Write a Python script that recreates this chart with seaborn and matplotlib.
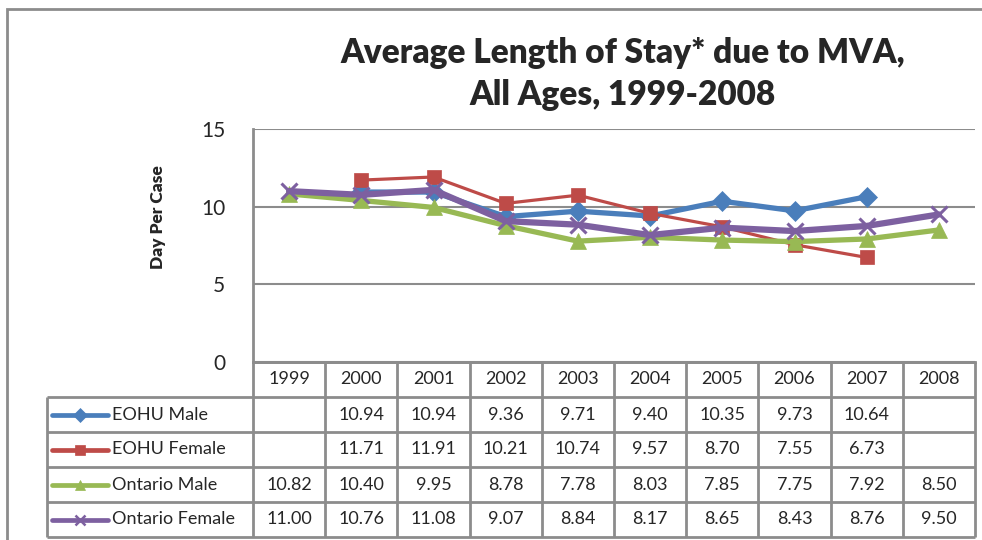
import numpy as np
import pandas as pd
import matplotlib
matplotlib.use("Agg")
import matplotlib.pyplot as plt
from matplotlib.lines import Line2D
from matplotlib.patches import Rectangle
import seaborn as sns

years = ['1999', '2000', '2001', '2002', '2003', '2004', '2005', '2006', '2007', '2008']
series_names = ['EOHU Male', 'EOHU Female', 'Ontario Male', 'Ontario Female']
eohu_male = [np.nan, 10.94, 10.94, 9.36, 9.71, 9.40, 10.35, 9.73, 10.64, np.nan]
eohu_female = [np.nan, 11.71, 11.91, 10.21, 10.74, 9.57, 8.70, 7.55, 6.73, np.nan]
ontario_male = [10.82, 10.40, 9.95, 8.78, 7.78, 8.03, 7.85, 7.75, 7.92, 8.50]
ontario_female = [11.00, 10.76, 11.08, 9.07, 8.84, 8.17, 8.65, 8.43, 8.76, 9.50]

colors = ['#4A7EBB', '#BE4B48', '#98B954', '#7D60A0']
markers = ['D', 's', '^', 'x']
widths = [3.8, 2.3, 3.8, 4.5]
msizes = [10.5, 10, 11.5, 11.5]

sns.set_style('white')
plt.rcParams['font.family'] = ['Lato', 'DejaVu Sans']

W, H = 982, 540
fig = plt.figure(figsize=(W / 100, H / 100), dpi=100)
grid_col = '#8c8c8c'

# outer chart frame (top and left edges visible)
fig.patches.append(Rectangle((7 / W, -0.2), 1.2, 1.2 - 9 / H, transform=fig.transFigure,
                             fill=False, edgecolor=grid_col, lw=2))

ax = fig.add_axes([253 / W, (H - 362) / H, 722 / W, 233 / H])
idx = np.arange(len(years))
df = pd.DataFrame({'idx': idx, 'EOHU Male': eohu_male, 'EOHU Female': eohu_female,
                   'Ontario Male': ontario_male, 'Ontario Female': ontario_female})

for name, c, m, lw, ms in zip(series_names, colors, markers, widths, msizes):
    sub = df[['idx', name]].dropna()
    sns.lineplot(data=sub, x='idx', y=name, ax=ax, color=c, lw=lw, marker=m, ms=ms,
                 mec=c, mew=2.2 if m == 'x' else 0.5)

ax.set_xlim(-0.5, len(years) - 0.5)
ax.set_ylim(0, 15)
ax.set_yticks([0, 5, 10, 15])
ax.set_xticks([])
ax.set_xlabel('')
ax.set_ylabel('Day Per Case', fontsize=12.5, fontweight='heavy')
ax.yaxis.set_label_coords(-0.12, 0.62)
ax.tick_params(axis='y', labelsize=15, pad=20, length=0)
ax.grid(axis='y', color=grid_col, lw=1.5)
ax.set_axisbelow(True)
for s in ['top', 'right']:
    ax.spines[s].set_visible(False)
for s in ['left', 'bottom']:
    ax.spines[s].set_color(grid_col)
    ax.spines[s].set_linewidth(2)

fig.text(623 / W, 1 - 74 / H, 'Average Length of Stay* due to MVA,\nAll Ages, 1999-2008',
         ha='center', va='center', fontsize=24, fontweight='heavy', linespacing=1.38)

# data table under the chart
tab = fig.add_axes([47 / W, (H - 537) / H, (975 - 47) / W, 175 / H])
left_edge = -0.5 - 206 / 72.2
right_edge = len(years) - 0.5
tab.set_xlim(left_edge, right_edge)
tab.set_ylim(len(series_names) + 1, 0)
tab.axis('off')

lkw = dict(color=grid_col, lw=2, clip_on=False)
tab.hlines([0], -0.5, right_edge, **lkw)
tab.hlines(np.arange(1, len(series_names) + 2), left_edge, right_edge, **lkw)
tab.vlines(np.arange(-0.5, len(years)), 0, len(series_names) + 1, **lkw)
tab.vlines([left_edge], 1, len(series_names) + 1, **lkw)

for i, y in enumerate(years):
    tab.text(i, 0.5, y, ha='center', va='center', fontsize=13)

for r, (name, c, m, lw, ms) in enumerate(zip(series_names, colors, markers, widths, msizes)):
    yc = r + 1.5
    vals = df[name].values
    for i, v in enumerate(vals):
        if not np.isnan(v):
            tab.text(i, yc, f'{v:.2f}', ha='center', va='center', fontsize=13)
    tab.add_line(Line2D([left_edge + 0.07, left_edge + 0.84], [yc, yc], color=c, lw=3.4,
                        solid_capstyle='round'))
    tab.plot([left_edge + 0.455], [yc], marker=m, color=c, ms=7, mec=c,
             mew=1.8 if m == 'x' else 0.5)
    tab.text(left_edge + 0.9, yc, name, ha='left', va='center', fontsize=13)

fig.savefig('out.png', dpi=100)
